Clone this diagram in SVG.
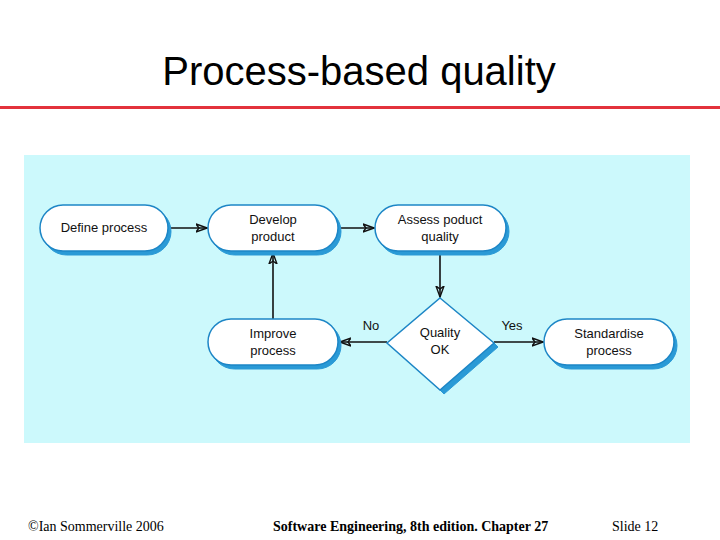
<svg xmlns="http://www.w3.org/2000/svg" width="720" height="540" viewBox="0 0 720 540">
<style>
.t{font-family:"Liberation Sans",Arial,sans-serif;font-size:13px;fill:#111;text-anchor:middle}
.sh{fill:#2a9ad6;stroke:#2a9ad6}
.nd{fill:#fff;stroke:#1d86c6;stroke-width:1.5}
.c{stroke:#111;stroke-width:1.6;fill:none}
.f{font-family:"Liberation Serif","Times New Roman",serif;font-size:14px;fill:#000}
</style>
<defs>
<marker id="a" markerWidth="12" markerHeight="10" refX="11" refY="5" orient="auto" markerUnits="userSpaceOnUse">
<path d="M0,1 L11,5 L0,9 L3,5 Z" fill="none" stroke="#111" stroke-width="1.4"/>
</marker>
</defs>
<rect width="720" height="540" fill="#fff"/>
<text x="359" y="85" font-family="Liberation Sans,Arial,sans-serif" font-size="40" text-anchor="middle" fill="#000">Process-based quality</text>
<line x1="0" y1="107.5" x2="720" y2="107.5" stroke="#e3323c" stroke-width="3"/>
<rect x="24" y="155" width="666" height="288" fill="#ccf9fc"/>
<g id="connectors">
<line class="c" x1="168" y1="228" x2="207" y2="228" marker-end="url(#a)"/>
<line class="c" x1="338" y1="228" x2="374" y2="228" marker-end="url(#a)"/>
<line class="c" x1="440" y1="252" x2="440" y2="297" marker-end="url(#a)"/>
<line class="c" x1="387" y1="342" x2="340" y2="342" marker-end="url(#a)"/>
<line class="c" x1="494" y1="342" x2="543" y2="342" marker-end="url(#a)"/>
<line class="c" x1="273" y1="319" x2="273" y2="253" marker-end="url(#a)"/>
<text class="t" x="371" y="330">No</text>
<text class="t" x="512" y="330">Yes</text>
</g>
<g id="define">
<rect class="sh" x="43" y="208" width="128" height="47" rx="23.5"/>
<rect class="nd" x="40" y="205" width="128" height="46" rx="23"/>
<text class="t" x="104" y="232">Define process</text>
</g>
<g id="develop">
<rect class="sh" x="211" y="208" width="130" height="47" rx="23.5"/>
<rect class="nd" x="208" y="205" width="130" height="46" rx="23"/>
<text class="t" x="273" y="224">Develop</text><text class="t" x="273" y="241">product</text>
</g>
<g id="assess">
<rect class="sh" x="378" y="208" width="131" height="47" rx="23.5"/>
<rect class="nd" x="375" y="205" width="131" height="46" rx="23"/>
<text class="t" x="440" y="224">Assess poduct</text><text class="t" x="440" y="241">quality</text>
</g>
<g id="improve">
<rect class="sh" x="211" y="322" width="130" height="47" rx="23.5"/>
<rect class="nd" x="208" y="319" width="130" height="46" rx="23"/>
<text class="t" x="273" y="338">Improve</text><text class="t" x="273" y="355">process</text>
</g>
<g id="standardise">
<rect class="sh" x="547" y="322" width="130" height="47" rx="23.5"/>
<rect class="nd" x="544" y="319" width="130" height="46" rx="23"/>
<text class="t" x="609" y="338">Standardise</text><text class="t" x="609" y="355">process</text>
</g>
<g id="quality">
<polygon class="sh" points="494,343 498,347 444,394 440,390"/>
<polygon class="nd" points="440,298 494,343 440,390 387,343"/>
<text class="t" x="440" y="337">Quality</text><text class="t" x="440" y="354">OK</text>
</g>
<text class="f" x="28" y="531">©Ian Sommerville 2006</text>
<text class="f" x="273" y="531" font-weight="bold">Software Engineering, 8th edition. Chapter 27</text>
<text class="f" x="612" y="531">Slide  12</text>
</svg>
